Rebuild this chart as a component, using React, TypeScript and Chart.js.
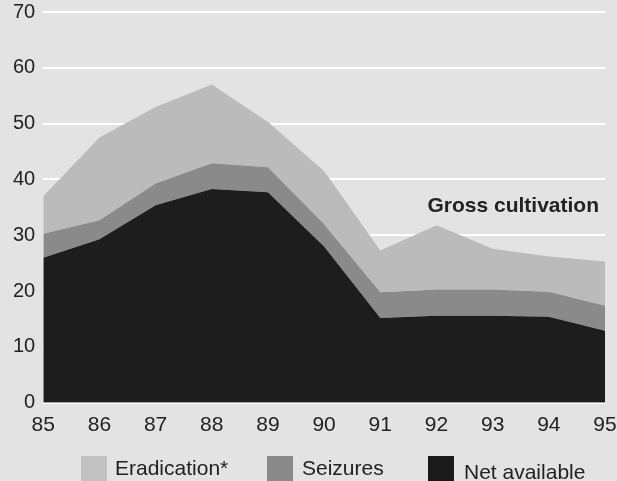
import React, { useEffect, useRef } from "react";
import { Chart, registerables } from "chart.js";

Chart.register(...registerables);

const years = ["85", "86", "87", "88", "89", "90", "91", "92", "93", "94", "95"];
const netAvailable = [26, 29.3, 35.4, 38.3, 37.7, 28, 15.2, 15.6, 15.6, 15.4, 12.9];
const seizures = [4.3, 3.4, 3.9, 4.6, 4.5, 4, 4.6, 4.7, 4.7, 4.5, 4.5];
const eradication = [6.7, 14.8, 13.7, 14.1, 8.1, 9.5, 7.5, 11.5, 7.3, 6.3, 7.9];
const yTicks = [0, 10, 20, 30, 40, 50, 60, 70];
const annotationText = "Gross cultivation";
const annotationValue = 35.2;

const BG = "#e3e3e3";
const ERAD = "#bbbbbb";
const SEIZ = "#8a8a8a";
const NET = "#1d1d1d";
const TEXT = "#222222";
const FONT = "'Liberation Sans', Arial, Helvetica, sans-serif";

const labelPlugin = {
  id: "grossLabel",
  afterDatasetsDraw(chart: any) {
    const { ctx, chartArea, scales } = chart;
    const y = scales.y.getPixelForValue(annotationValue);
    ctx.save();
    ctx.font = `bold 21px ${FONT}`;
    ctx.fillStyle = TEXT;
    ctx.textAlign = "right";
    ctx.textBaseline = "middle";
    ctx.fillText(annotationText, chartArea.right - 6, y);
    ctx.restore();
  },
};

const legendItems = [
  { label: "Eradication*", color: "#c2c2c2", box: 81, text: 115, textTop: 457 },
  { label: "Seizures", color: "#8a8a8a", box: 267, text: 302, textTop: 457 },
  { label: "Net available", color: "#1a1a1a", box: 428, text: 464, textTop: 461 },
];

export default function App() {
  const ref = useRef<HTMLCanvasElement | null>(null);

  useEffect(() => {
    if (!ref.current) return;
    const chart = new Chart(ref.current, {
      type: "line",
      data: {
        labels: years,
        datasets: [
          {
            label: "Net available",
            data: netAvailable,
            fill: "origin",
            backgroundColor: NET,
            borderWidth: 0,
            pointRadius: 0,
            tension: 0,
          },
          {
            label: "Seizures",
            data: seizures,
            fill: "-1",
            backgroundColor: SEIZ,
            borderWidth: 0,
            pointRadius: 0,
            tension: 0,
          },
          {
            label: "Eradication*",
            data: eradication,
            fill: "-1",
            backgroundColor: ERAD,
            borderWidth: 0,
            pointRadius: 0,
            tension: 0,
          },
        ],
      },
      options: {
        animation: false,
        responsive: false,
        devicePixelRatio: 1,
        layout: { padding: { left: 5, top: 0, right: 0, bottom: 33 } },
        plugins: {
          legend: { display: false },
          tooltip: { enabled: false },
        },
        scales: {
          x: {
            offset: false,
            grid: { display: false, drawTicks: false },
            border: { display: false },
            afterFit: (scale: any) => {
              scale.paddingRight = 12;
              scale.paddingLeft = 0;
            },
            ticks: {
              color: TEXT,
              font: { family: FONT, size: 21 },
              padding: 10,
              maxRotation: 0,
              autoSkip: false,
            },
          },
          y: {
            stacked: true,
            min: 0,
            max: 70,
            afterBuildTicks: (scale: any) => {
              scale.ticks = yTicks.map((v) => ({ value: v }));
            },
            afterFit: (scale: any) => {
              scale.paddingTop = 12;
              scale.paddingBottom = 0;
            },
            grid: { color: "#ffffff", lineWidth: 2, drawTicks: false },
            border: { display: false },
            ticks: {
              color: TEXT,
              font: { family: FONT, size: 20 },
              padding: 8,
            },
          },
        },
      },
      plugins: [labelPlugin],
    });
    return () => chart.destroy();
  }, []);

  return (
    <div
      style={{
        position: "fixed",
        left: 0,
        top: 0,
        width: 617,
        height: 481,
        overflow: "hidden",
        background: BG,
        fontFamily: FONT,
      }}
    >
      <canvas ref={ref} width={617} height={481} style={{ position: "absolute", left: 0, top: 0 }} />
      {legendItems.map((it) => (
        <React.Fragment key={it.label}>
          <div
            style={{
              position: "absolute",
              left: it.box,
              top: 456,
              width: 26,
              height: 32,
              background: it.color,
            }}
          />
          <div
            style={{
              position: "absolute",
              left: it.text,
              top: it.textTop,
              fontSize: 21,
              lineHeight: "21px",
              color: TEXT,
              whiteSpace: "nowrap",
            }}
          >
            {it.label}
          </div>
        </React.Fragment>
      ))}
    </div>
  );
}
